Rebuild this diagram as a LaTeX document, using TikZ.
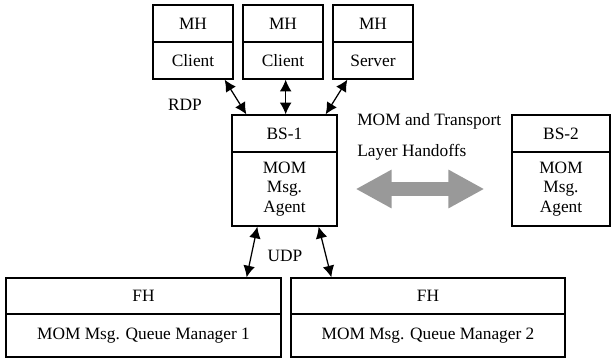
\documentclass[tikz,border=0pt]{standalone}
\usepackage{fontspec}
\setmainfont{Liberation Serif}
\usetikzlibrary{arrows.meta}

\tikzset{
    caja/.style={draw, line width=0.75pt, inner sep=0pt, align=center,
        font=\fontsize{10.4}{11.7}\selectfont},
    flecha/.style={line width=0.75pt, {Latex[length=7pt,width=7pt]}-{Latex[length=7pt,width=7pt]}},
    etiqueta/.style={font=\fontsize{10.4}{12}\selectfont, inner sep=0pt}
}

\begin{document}
\begin{tikzpicture}[x=0.6pt, y=-0.6pt]

    \useasboundingbox (0,0) rectangle (612,358);

    % hosts moviles
    \node[caja, minimum width=48pt, minimum height=22.2pt] (mh1a) at (193,23.5) {MH};
    \node[caja, minimum width=48pt, minimum height=22.2pt] (mh1b) at (193,60.5) {Client};
    \node[caja, minimum width=48pt, minimum height=22.2pt] (mh2a) at (283,23.5) {MH};
    \node[caja, minimum width=48pt, minimum height=22.2pt] (mh2b) at (283,60.5) {Client};
    \node[caja, minimum width=48pt, minimum height=22.2pt] (mh3a) at (373,23.5) {MH};
    \node[caja, minimum width=48pt, minimum height=22.2pt] (mh3b) at (373,60.5) {Server};

    % estaciones base
    \node[caja, minimum width=63pt, minimum height=22.2pt] (bs1a) at (284.5,133.5) {BS-1};
    \node[caja, minimum width=63pt, minimum height=44.4pt] (bs1b) at (284.5,189) {MOM\\Msg.\\Agent};
    \node[caja, minimum width=58.8pt, minimum height=22.2pt] (bs2a) at (561,133.5) {BS-2};
    \node[caja, minimum width=58.8pt, minimum height=44.4pt] (bs2b) at (561,189) {MOM\\Msg.\\Agent};

    % hosts fijos
    \node[caja, minimum width=165pt, minimum height=21.6pt] (fh1a) at (143.5,296) {FH};
    \node[caja, minimum width=165pt, minimum height=25.8pt] (fh1b) at (143.5,335.5) {MOM Msg. Queue Manager 1};
    \node[caja, minimum width=164.4pt, minimum height=21.6pt] (fh2a) at (428,296) {FH};
    \node[caja, minimum width=164.4pt, minimum height=25.8pt] (fh2b) at (428,335.5) {MOM Msg. Queue Manager 2};

    % enlaces RDP
    \draw[flecha] ([xshift=-5.4pt]mh1b.south east) -- ([xshift=9pt]bs1a.north west);
    \draw[flecha] ([xshift=1.6pt]mh2b.south) -- ([xshift=0.7pt]bs1a.north);
    \draw[flecha] ([xshift=9pt]mh3b.south west) -- ([xshift=-7.2pt]bs1a.north east);

    % enlaces UDP
    \draw[flecha] ([xshift=15.6pt]bs1b.south west) -- ([xshift=-21pt]fh1a.north east);
    \draw[flecha] ([xshift=-11.4pt]bs1b.south east) -- ([xshift=24.6pt]fh2a.north west);

    % handoff
    \draw[black!40, line width=8.4pt, {Triangle[length=21.6pt,width=21.6pt]}-{Triangle[length=21.6pt,width=21.6pt]}]
        ([xshift=10.8pt]bs1b.east) -- ([xshift=-16.2pt]bs2b.west);

    % leyendas
    \node[etiqueta] (rdp) at (185,105) {RDP};
    \node[etiqueta] (udp) at (285,256) {UDP};
    \node[etiqueta, anchor=west] (mom) at (357,121) {MOM and Transport};
    \node[etiqueta, anchor=west] (lay) at (357,152) {Layer Handoffs};

\end{tikzpicture}
\end{document}
